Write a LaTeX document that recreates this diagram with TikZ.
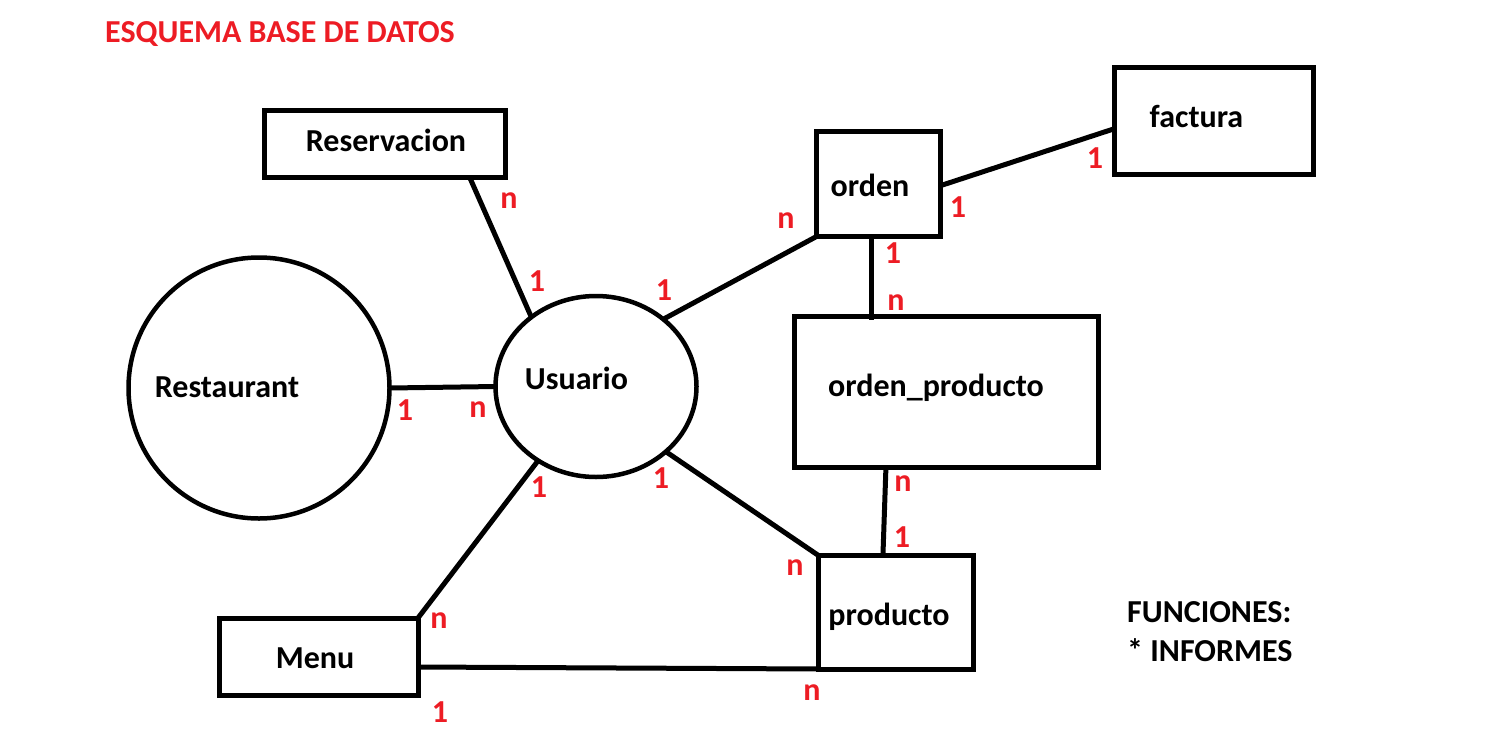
\documentclass[tikz,border=0pt]{standalone}
\usepackage{fontspec}
\setmainfont{Carlito}
\usetikzlibrary{shapes.geometric,calc}
\definecolor{pred}{RGB}{237,28,36}
\begin{document}
\begin{tikzpicture}[x=1pt,y=-1pt,
  box/.style={draw, line width=5pt, rectangle, inner sep=0pt, outer sep=0pt},
  round/.style={draw, line width=4.5pt, inner sep=0pt, outer sep=0pt},
  conn/.style={line width=5pt},
  txt/.style={font=\bfseries\fontsize{32}{38}\selectfont, inner sep=0pt, anchor=base},
  txtl/.style={txt, anchor=base west},
  card/.style={font=\bfseries\fontsize{32}{38}\selectfont, inner sep=0pt, text=pred, anchor=center}]
\useasboundingbox (0,0) rectangle (1510,750);
\fill[white] (0,0) rectangle (1510,750);

% title
\node[txtl, text=pred] (title) at (105,42) {ESQUEMA BASE DE DATOS};

% entities
\node[box, minimum width=241.5pt, minimum height=67pt] (res) at (384.75,144) {};
\node[round, circle, minimum size=261pt] (rest) at (259,388) {};
\node[round, ellipse, minimum width=201pt, minimum height=181pt] (usu) at (596,386.5) {};
\node[box, minimum width=124pt, minimum height=105pt] (ord) at (878.5,184) {};
\node[box, minimum width=199.5pt, minimum height=106.5pt] (fac) at (1214,120.75) {};
\node[box, minimum width=304pt, minimum height=151pt] (op) at (946,392) {};
\node[box, minimum width=155pt, minimum height=113.5pt] (prod) at (896,612.25) {};
\node[box, minimum width=199pt, minimum height=77pt] (menu) at (318.5,656.5) {};

% entity texts
\node[txt] (tres) at (386,151) {Reservacion};
\node[txt] (trest) at (227,397) {Restaurant};
\node[txt] (tusu) at (576.5,389) {Usuario};
\node[txt] (tord) at (870,196) {orden};
\node[txt] (tfac) at (1196.5,127) {factura};
\node[txt] (top) at (936,396) {orden\_producto};
\node[txt] (tprod) at (889,625) {producto};
\node[txt] (tmenu) at (315,668) {Menu};
\node[txtl] (f1) at (1127,622) {FUNCIONES:};
\node[txtl] (f2) at (1127,661) {* INFORMES};

% connectors
\draw[conn] ($(res.south)+(85,0)$) -- (usu.133);
\draw[conn] (rest.east) -- (usu.west);
\draw[conn] (usu.45) -- (ord.south west);
\draw[conn] ($(ord.east)+(2,1)$) -- ($(fac.west)+(0,8)$);
\draw[conn] ($(ord.south)+(-7.5,0)$) -- ($(op.north)+(-75,3)$);
\draw[conn] ($(op.south)+(-60,-2)$) -- ($(prod.north)+(-13,-2)$);
\draw[conn] (usu.-43) -- (prod.north west);
\draw[conn] (usu.-128) -- (menu.north east);
\draw[conn] ($(menu.east)+(0,10.5)$) -- (prod.south west);

% cardinalities
\node[card] (c1) at (509,201) {n};
\node[card] (c2) at (537,281) {1};
\node[card] (c3) at (664,290) {1};
\node[card] (c4) at (786,221) {n};
\node[card] (c5) at (958,207) {1};
\node[card] (c6) at (1095,158) {1};
\node[card] (c7) at (893,253) {1};
\node[card] (c8) at (896,303) {n};
\node[card] (c9) at (405,410) {1};
\node[card] (c10) at (478,410) {n};
\node[card] (c11) at (539,487) {1};
\node[card] (c12) at (661,478) {1};
\node[card] (c13) at (903,484) {n};
\node[card] (c14) at (902,537) {1};
\node[card] (c15) at (795,568) {n};
\node[card] (c16) at (439,621) {n};
\node[card] (c17) at (440,712) {1};
\node[card] (c18) at (812,693) {n};
\end{tikzpicture}
\end{document}
